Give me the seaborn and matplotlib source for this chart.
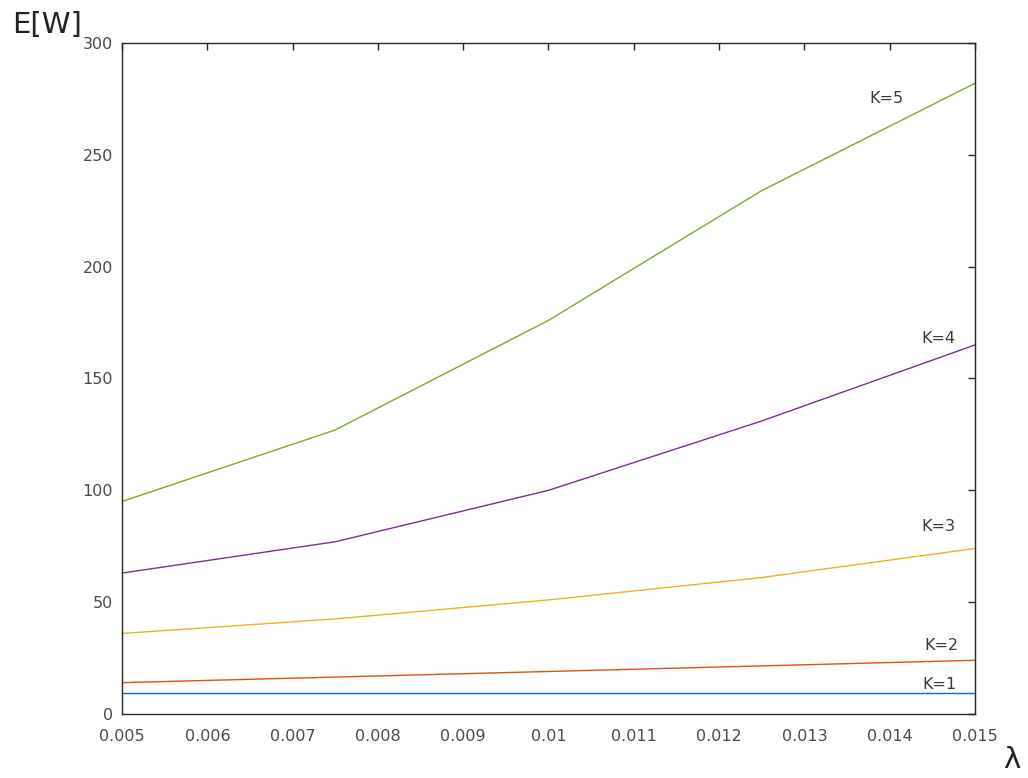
import numpy as np
import pandas as pd
import matplotlib
matplotlib.use("Agg")
import matplotlib.pyplot as plt
import seaborn as sns

lam = [0.005, 0.0075, 0.01, 0.0125, 0.015]
k1 = [9.5, 9.5, 9.5, 9.5, 9.5]
k2 = [14, 16.5, 19, 21.5, 24]
k3 = [36, 42.5, 51, 61, 74]
k4 = [63, 77, 100, 131, 165]
k5 = [95, 127, 176, 234, 282]
series_names = ["K=1", "K=2", "K=3", "K=4", "K=5"]
colors = ["#0072BD", "#D95319", "#EDB120", "#7E2F8E", "#77AC30"]
xtick_labels = ["0.005", "0.006", "0.007", "0.008", "0.009", "0.01",
                "0.011", "0.012", "0.013", "0.014", "0.015"]
ytick_values = [0, 50, 100, 150, 200, 250, 300]

df = pd.concat([
    pd.DataFrame({"lam": lam, "EW": v, "K": n})
    for n, v in zip(series_names, [k1, k2, k3, k4, k5])
])

sns.set_style("white")
plt.rcParams['font.family'] = ['DejaVu Sans']

fig = plt.figure(figsize=(10.28, 7.78), dpi=100)
ax = fig.add_axes([0.1187, 0.0823, 0.8297, 0.8624])
sns.lineplot(data=df, x="lam", y="EW", hue="K", palette=colors,
             linewidth=1.0, ax=ax, legend=False)

ax.set_xlim(0.005, 0.015)
ax.set_ylim(0, 300)
ax.set_xticks(np.linspace(0.005, 0.015, 11))
ax.set_xticklabels(xtick_labels)
ax.set_yticks(ytick_values)
ax.set_xlabel("")
ax.set_ylabel("")
ax.tick_params(direction="in", top=True, right=True, length=5, width=1,
               labelsize=11.5, colors="#262626", labelcolor="#4a4a4a")
ax.tick_params(axis="x", pad=11)
ax.tick_params(axis="y", pad=6.5)
for s in ax.spines.values():
    s.set_color("#262626")
    s.set_linewidth(1.0)

label_pos = [(0.01459, 13.4), (0.01461, 30.4), (0.01457, 83.6), (0.01457, 168), (0.01396, 275.4)]
for n, (x, y) in zip(series_names, label_pos):
    ax.text(x, y, n, ha="center", va="center", fontsize=11.5, color="#3a3a3a")

fig.text(47 / 1028, 1 - 25 / 778, "E[W]", ha="center", va="center",
         fontsize=21, color="#222222")
fig.text(1012 / 1028, 1 - 760 / 778, "λ", ha="center", va="center",
         fontsize=21, color="#222222")

fig.savefig("out.png", dpi=100)
